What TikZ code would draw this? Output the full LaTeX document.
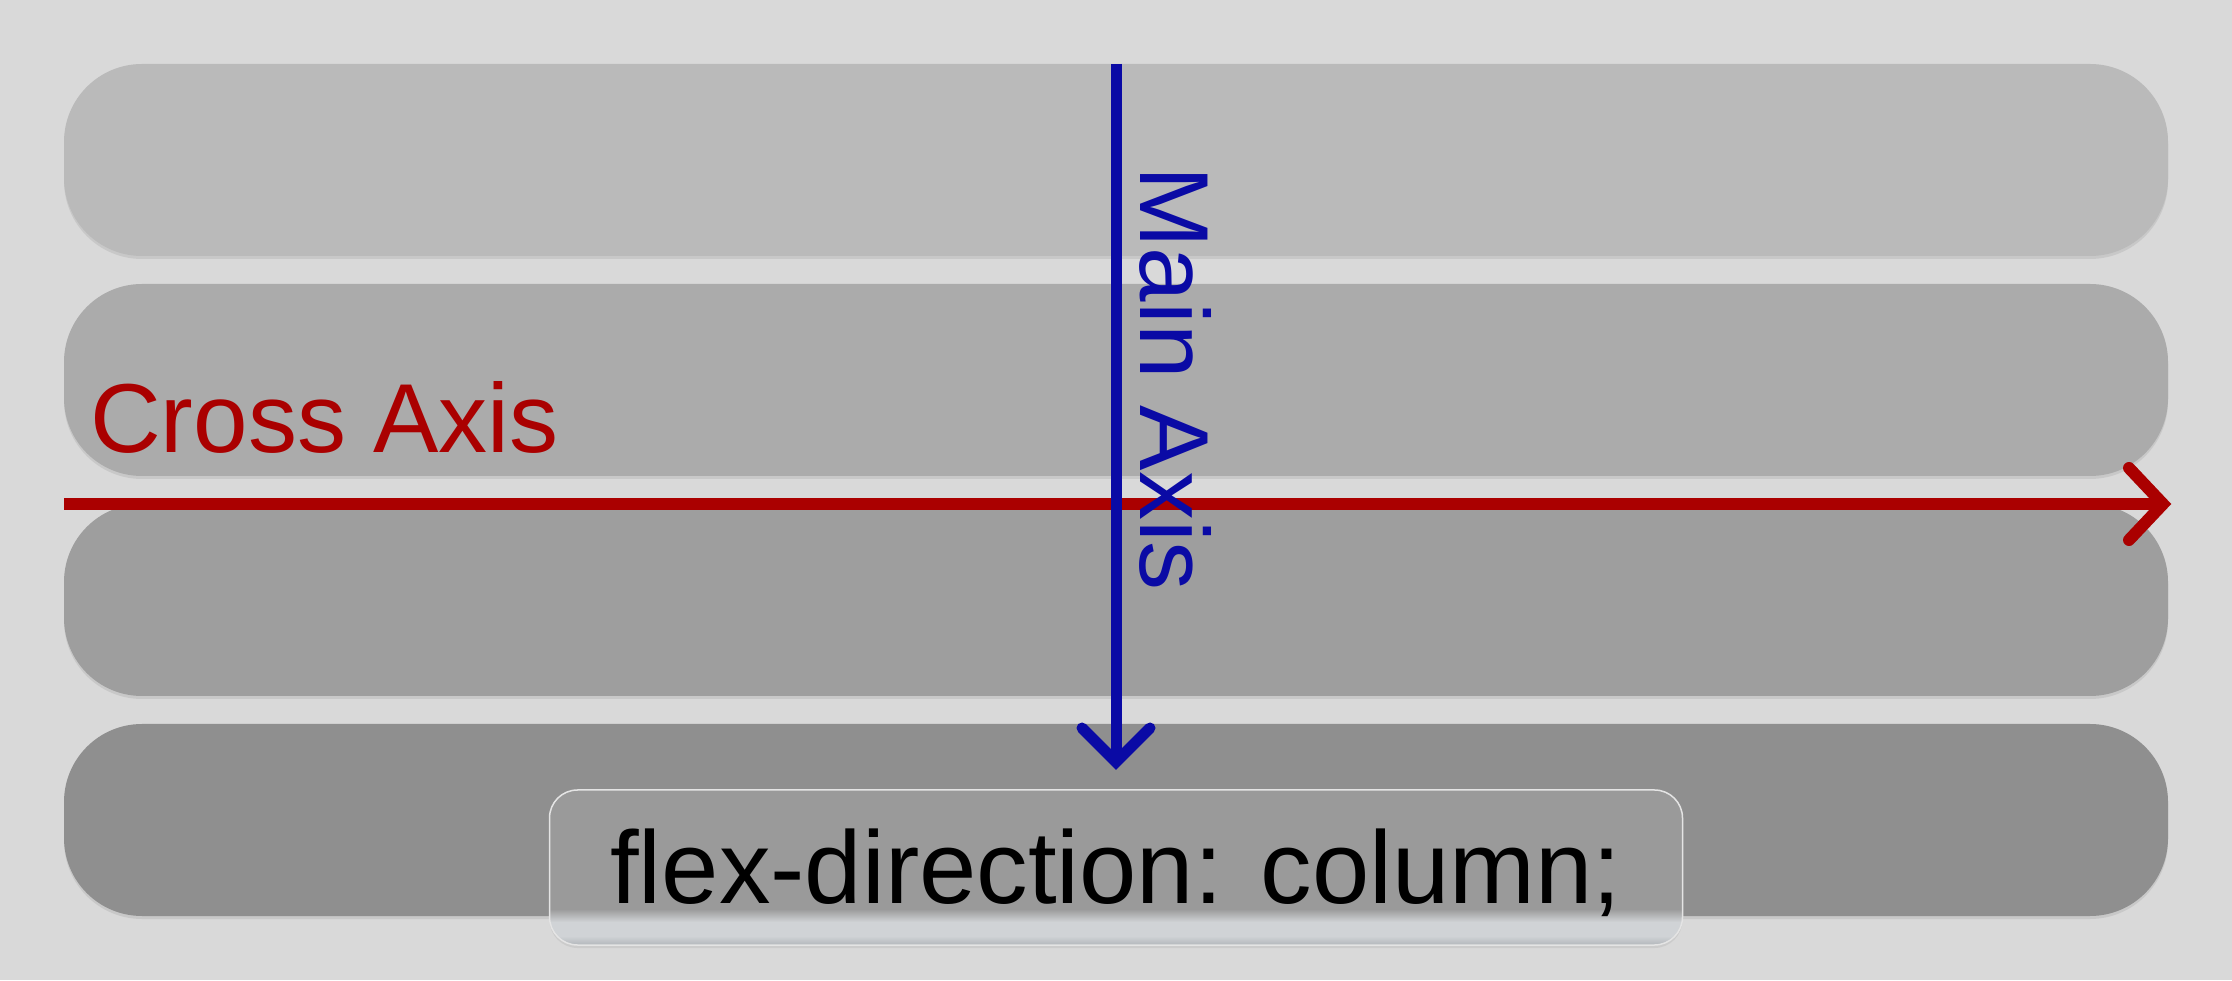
\documentclass[tikz,border=0pt]{standalone}
\usepackage{fontspec}
\newfontfamily\lsans{Liberation Sans}
\usetikzlibrary{calc,shadows}
\definecolor{bg}{HTML}{D9D9D9}
\definecolor{barA}{HTML}{BABABA}
\definecolor{barB}{HTML}{ABABAB}
\definecolor{barC}{HTML}{9E9E9E}
\definecolor{barD}{HTML}{8F8F8F}
\definecolor{axred}{HTML}{AA0000}
\definecolor{axblue}{HTML}{0A0AA5}
\definecolor{boxfill}{HTML}{9A9A9A}
\definecolor{gloss}{HTML}{D0D3D6}
\definecolor{glossdark}{HTML}{B6BABE}
\definecolor{boxline}{HTML}{E4E4E4}
\begin{document}
\begin{tikzpicture}[x=1pt,y=1pt,
  barnode/.style={draw=none, rectangle, rounded corners=78pt, inner sep=0pt, outer sep=0pt,
    minimum width=2104pt, minimum height=192pt,
    drop shadow={shadow xshift=0pt, shadow yshift=-3pt, opacity=0.18}},
  redax/.style={draw=axred, line width=12pt},
  blueax/.style={draw=axblue, line width=11pt},
  chevron/.style={line cap=round, line join=miter},
  axlabel/.style={font=\lsans\fontsize{98}{118}\selectfont, inner sep=0pt},
  flexbox/.style={rectangle, rounded corners=28pt, inner sep=0pt, outer sep=0pt,
    minimum width=1133pt, minimum height=155pt, fill=boxfill, draw=boxline, line width=1.5pt,
    drop shadow={shadow xshift=0pt, shadow yshift=-3pt, opacity=0.15},
    path picture={
      \foreach \k in {0,...,35}{
        \ifnum\k<14
          \pgfmathsetmacro\pp{100*\k/13}\colorlet{stripc}{gloss!\pp!boxfill}
        \else
          \ifnum\k<28
            \colorlet{stripc}{gloss}
          \else
            \pgfmathsetmacro\pp{100*(\k-27)/8}\colorlet{stripc}{glossdark!\pp!gloss}
          \fi
        \fi
        \fill[stripc, sharp corners, draw=none]
          ($(path picture bounding box.south west)+(0,36-\k)$) rectangle
          ($(path picture bounding box.south east)+(0,34.7-\k)$);
      }
    }},
  flexlabel/.style={font=\lsans\fontsize{103}{122}\selectfont, text=black, inner sep=0pt}
]
\fill[bg] (0,0) rectangle (2232,980);
\useasboundingbox (0,0) rectangle (2232,980);

% bars
\node[barnode, fill=barA] (bar1) at (1116,820) {};
\node[barnode, fill=barB] (bar2) at (1116,600) {};
\node[barnode, fill=barC] (bar3) at (1116,380) {};
\node[barnode, fill=barD] (bar4) at (1116,160) {};

% cross axis
\coordinate (cs) at (64,476);
\coordinate (ce) at (2163,476);
\draw[redax] (cs) -- (ce);
\draw[redax, chevron] ($(ce)+(-34,36)$) -- (ce) -- ($(ce)+(-34,-36)$);
\node[axlabel, text=axred, anchor=base west] (crosslabel) at (90,527) {Cross Axis};

% main axis
\coordinate (mtip) at (1116,218);
\draw[blueax] (bar1.north) -- (mtip);
\draw[blueax, chevron] ($(mtip)+(-34,34)$) -- (mtip) -- ($(mtip)+(34,34)$);
\node[axlabel, text=axblue, rotate=-90, anchor=base west] (mainlabel) at (1140,814) {Main Axis};

% flex-direction box
\node[flexbox] (fd) at (1116,112.5) {};
\node[flexlabel, anchor=base] (fdlabel) at (1116,77) {flex-direction: column;};
\end{tikzpicture}
\end{document}
